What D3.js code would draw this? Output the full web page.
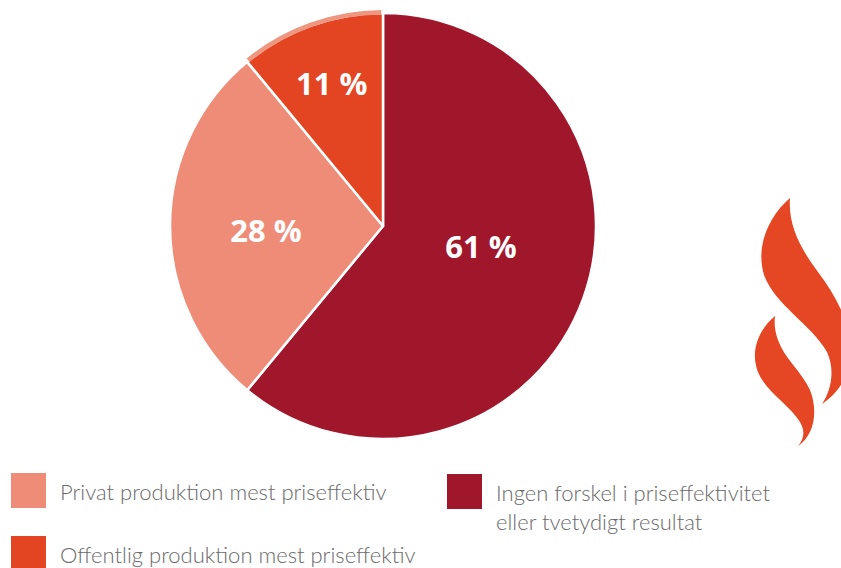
<!DOCTYPE html>
<html>
<head>
<meta charset="utf-8">
<script src="https://cdn.jsdelivr.net/npm/d3@7"></script>
<style>
    body { margin: 0; background: #fff; }
    .slicelabel { font-family: 'Open Sans', sans-serif; font-weight: 700; fill: #fff; }
    .legendtext { font-family: Lato, sans-serif; font-weight: 300; fill: #6a6a6a; }
</style>
</head>
<body>
<div id="chart"></div>
<script>
'use strict';
// Data
const categories = ['Ingen forskel i priseffektivitet eller tvetydigt resultat', 'Privat produktion mest priseffektiv', 'Offentlig produktion mest priseffektiv']
const shares = [61, 28, 11]
const sliceLabels = ['61 %', '28 %', '11 %']
const sliceColors = ['#a0172c', '#ef8c78', '#e34522']
const legendLines = [['Privat produktion mest priseffektiv'], ['Offentlig produktion mest priseffektiv'], ['Ingen forskel i priseffektivitet', 'eller tvetydigt resultat']]
const legendOrder = [1, 2, 0]

// D3 Globals
const width = 841
const height = 568
const cx = 383
const cy = 226
const radius = 213
// label placement: fraction of radius and angle shift from slice middle
const labelRadius = [0.47, 0.55, 0.71]
const labelShift = [-0.136, -0.04, 0]

const svg = d3.select('#chart')
    .append('svg')
    .attr('width', width)
    .attr('height', height)

const pie = d3.pie().sort(null).startAngle(0).endAngle(2 * Math.PI)
const arcs = pie(shares)
const arc = d3.arc().innerRadius(0).outerRadius(radius)

const g = svg.append('g')
    .attr('transform', `translate(${cx},${cy})`)

// Slices
g.selectAll('path.slice')
    .data(arcs)
    .join('path')
    .attr('class', 'slice')
    .attr('d', arc)
    .attr('fill', (d, i) => sliceColors[i])
    .attr('stroke', '#fff')
    .attr('stroke-width', 2.5)
    .attr('stroke-linejoin', 'round')

// Light rim on the small slice
g.append('path')
    .datum(arcs[2])
    .attr('d', d3.arc().innerRadius(radius - 1.5).outerRadius(radius + 3).padAngle(0.012))
    .attr('fill', '#ef9680')

// Slice labels
g.selectAll('text.slicelabel')
    .data(arcs)
    .join('text')
    .attr('class', 'slicelabel')
    .attr('transform', (d, i) => {
        const r = radius * labelRadius[i]
        const a = (d.startAngle + d.endAngle) / 2 + labelShift[i]
        return `translate(${r * Math.sin(a)},${-r * Math.cos(a)})`
    })
    .attr('text-anchor', 'middle')
    .attr('dy', '0.36em')
    .attr('font-size', 31)
    .text((d, i) => sliceLabels[i])

// Legend
const legendPos = [[11, 473], [11, 536], [447, 474]]
legendOrder.forEach((idx, k) => {
    const [lx, ly] = legendPos[k]
    const lg = svg.append('g').attr('transform', `translate(${lx},${ly})`)
    lg.append('rect')
        .attr('width', 35)
        .attr('height', 35)
        .attr('fill', sliceColors[idx])
    const t = lg.append('text')
        .attr('class', 'legendtext')
        .attr('font-size', 22)
    legendLines[k].forEach((line, j) => {
        t.append('tspan')
            .attr('x', 49)
            .attr('y', 27 + j * 29)
            .text(line)
    })
})

// Decorative flame
function bigFlame() {
    const p = d3.path()
    p.moveTo(790, 198)
    p.bezierCurveTo(770, 215, 755, 245, 764, 275)
    p.bezierCurveTo(775, 305, 812, 325, 827, 352)
    p.bezierCurveTo(836, 372, 830, 392, 822, 404)
    p.bezierCurveTo(835, 395, 850, 380, 850, 350)
    p.bezierCurveTo(850, 320, 835, 295, 818, 272)
    p.bezierCurveTo(800, 248, 788, 225, 790, 198)
    p.closePath()
    return p.toString()
}
function smallFlame() {
    const p = d3.path()
    p.moveTo(775, 316)
    p.bezierCurveTo(758, 330, 750, 352, 758, 372)
    p.bezierCurveTo(766, 392, 790, 405, 800, 422)
    p.bezierCurveTo(806, 432, 803, 440, 798, 446)
    p.bezierCurveTo(815, 435, 818, 410, 810, 390)
    p.bezierCurveTo(802, 372, 784, 358, 778, 340)
    p.bezierCurveTo(775, 332, 774, 324, 775, 316)
    p.closePath()
    return p.toString()
}
svg.append('path').attr('d', bigFlame()).attr('fill', '#e54623')
svg.append('path').attr('d', smallFlame()).attr('fill', '#e54623')
</script>
</body>
</html>
